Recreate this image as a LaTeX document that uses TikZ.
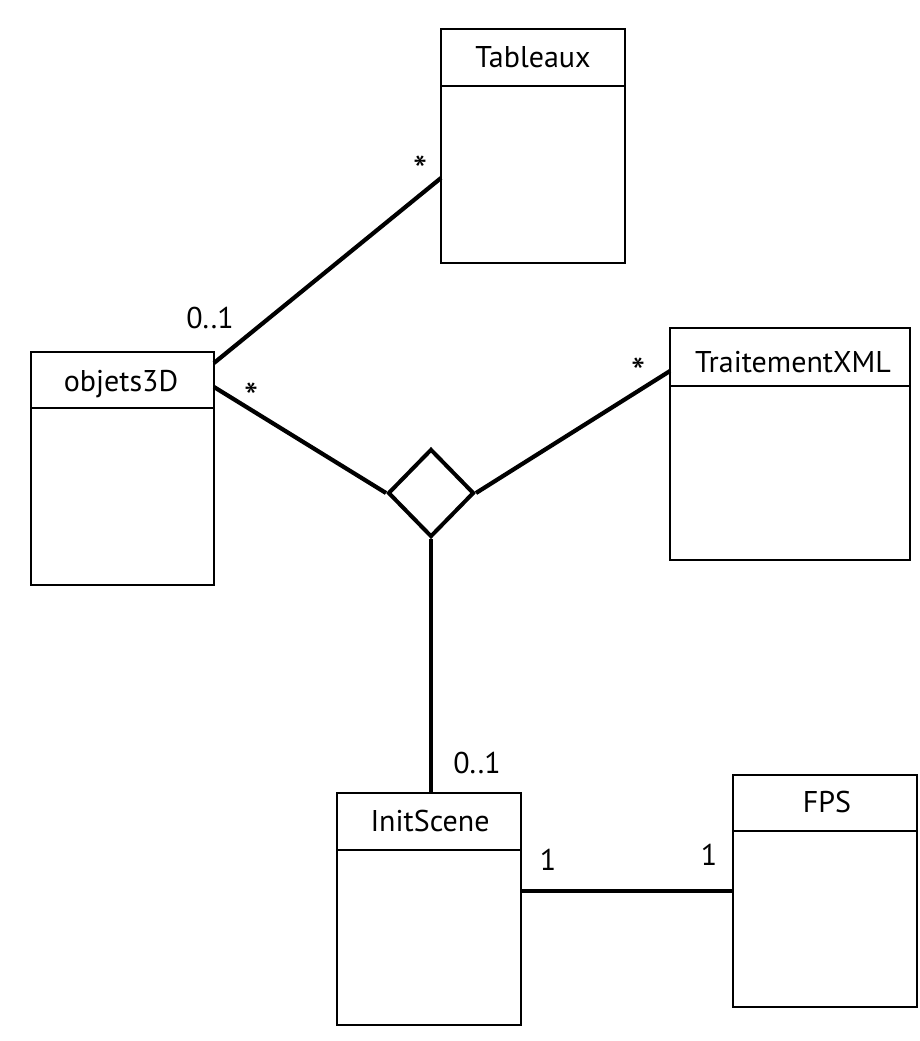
\documentclass[tikz,border=0pt]{standalone}
\usepackage{fontspec}
\setmainfont{PT Sans}
\usetikzlibrary{shapes.geometric}
\begin{document}
\begin{tikzpicture}[x=1pt,y=-1pt,
  classbox/.style={draw,line width=2.5pt,inner sep=0pt,outer sep=0pt},
  sepline/.style={line width=2.5pt},
  conn/.style={line width=4.2pt},
  ttl/.style={font=\fontsize{30}{30}\selectfont,anchor=base,inner sep=0pt},
  mult/.style={font=\fontsize{30}{30}\selectfont,anchor=base,inner sep=0pt},
  star/.style={font=\fontsize{40}{40}\selectfont,inner sep=0pt}]
\useasboundingbox[fill=white] (0,0) rectangle (920,1041);

% classes
\node[classbox,minimum width=184pt,minimum height=234pt] (tab) at (533,146) {};
\draw[sepline] ([yshift=-57pt]tab.north west) -- ([yshift=-57pt]tab.north east);
\node[ttl] (tabt) at (533,67) {Tableaux};

\node[classbox,minimum width=183pt,minimum height=233pt] (obj) at (122.5,468.5) {};
\draw[sepline] ([yshift=-56pt]obj.north west) -- ([yshift=-56pt]obj.north east);
\node[ttl] (objt) at (121,391) {objets3D};

\node[classbox,minimum width=240pt,minimum height=232pt] (xml) at (790,444) {};
\draw[sepline] ([yshift=-58pt]xml.north west) -- ([yshift=-58pt]xml.north east);
\node[ttl] (xmlt) at (793,372) {TraitementXML};

\node[classbox,minimum width=184pt,minimum height=232pt] (ini) at (429,909) {};
\draw[sepline] ([yshift=-57pt]ini.north west) -- ([yshift=-57pt]ini.north east);
\node[ttl] (init) at (430,831) {InitScene};

\node[classbox,minimum width=184pt,minimum height=232pt] (fps) at (825,891) {};
\draw[sepline] ([yshift=-56pt]fps.north west) -- ([yshift=-56pt]fps.north east);
\node[ttl] (fpst) at (827,812) {FPS};

% association diamond
\node[draw,diamond,line width=4pt,inner sep=0pt,minimum width=86pt,minimum height=88pt] (dia) at (431,493) {};

% connectors
\draw[conn] ([yshift=-11pt]obj.north east) -- ([yshift=-149pt]tab.north west);
\draw[conn] ([yshift=-35pt]obj.north east) -- (dia.west);
\draw[conn] (dia.east) -- ([yshift=-43pt]xml.north west);
\draw[conn] (dia.south) -- ([xshift=2pt]ini.north);
\draw[conn] ([yshift=18pt]ini.east) -- (fps.west);

% multiplicities
\node[mult] (m1) at (210,328) {0..1};
\node[star] (m2) at (421,170) {*};
\node[star] (m3) at (252,397) {*};
\node[star] (m4) at (639,372) {*};
\node[mult] (m5) at (477,773) {0..1};
\node[mult] (m6) at (548,870) {1};
\node[mult] (m7) at (709,865) {1};
\end{tikzpicture}
\end{document}
